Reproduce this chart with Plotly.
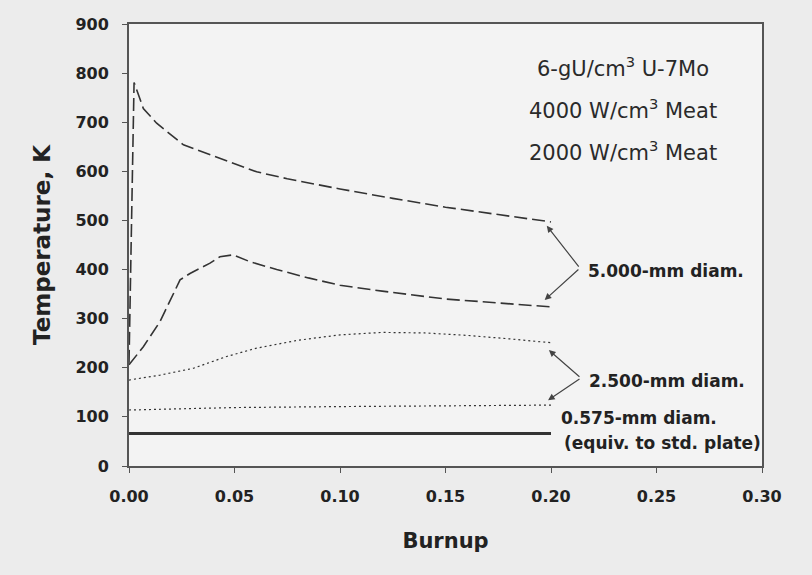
import plotly.graph_objects as go

# ---- data ----
x_5mm_4000 = [0.0, 0.0024, 0.0068, 0.0131, 0.0258, 0.0368, 0.0494, 0.0605, 0.075, 0.10, 0.125, 0.15, 0.175, 0.20]
y_5mm_4000 = [210, 781, 728, 698, 654, 637, 616, 599, 585, 564, 545, 527, 512, 497]

x_5mm_2000 = [0.0, 0.0068, 0.0147, 0.0242, 0.0289, 0.0384, 0.0431, 0.0494, 0.0573, 0.07, 0.085, 0.10, 0.12, 0.15, 0.175, 0.20]
y_5mm_2000 = [206, 243, 294, 379, 392, 413, 426, 430, 416, 400, 383, 368, 356, 340, 332, 324]

x_25mm_4000 = [0.0, 0.0147, 0.0305, 0.0463, 0.0605, 0.08, 0.10, 0.12, 0.14, 0.16, 0.18, 0.20]
y_25mm_4000 = [175, 185, 199, 223, 240, 256, 267, 272, 271, 266, 259, 251]

x_25mm_2000 = [0.0, 0.05, 0.10, 0.15, 0.20]
y_25mm_2000 = [114, 119, 121, 122, 124]

x_0575 = [0.0, 0.05, 0.10, 0.15, 0.20]
y_0575 = [66, 66, 66, 66, 66]

x_ticks = [0.00, 0.05, 0.10, 0.15, 0.20, 0.25, 0.30]
x_tick_labels = ["0.00", "0.05", "0.10", "0.15", "0.20", "0.25", "0.30"]
y_ticks = [0, 100, 200, 300, 400, 500, 600, 700, 800, 900]

line_col = "#333333"
fig = go.Figure()
fig.add_trace(go.Scatter(x=x_5mm_4000, y=y_5mm_4000, mode="lines",
                         line=dict(color=line_col, width=1.6, dash="13px,5px")))
fig.add_trace(go.Scatter(x=x_5mm_2000, y=y_5mm_2000, mode="lines",
                         line=dict(color=line_col, width=1.6, dash="13px,5px")))
fig.add_trace(go.Scatter(x=x_25mm_4000, y=y_25mm_4000, mode="lines",
                         line=dict(color=line_col, width=1.2, dash="2px,3px")))
fig.add_trace(go.Scatter(x=x_25mm_2000, y=y_25mm_2000, mode="lines",
                         line=dict(color=line_col, width=1.2, dash="2px,3px")))
fig.add_trace(go.Scatter(x=x_0575, y=y_0575, mode="lines",
                         line=dict(color=line_col, width=3)))

ann = []
txt_font = dict(family="DejaVu Sans", size=21, color="#2a2a2a")
ann.append(dict(x=0.234, y=812, text="6-gU/cm<sup>3</sup> U-7Mo", showarrow=False, font=txt_font, xanchor="center"))
ann.append(dict(x=0.234, y=727, text="4000 W/cm<sup>3</sup> Meat", showarrow=False, font=txt_font, xanchor="center"))
ann.append(dict(x=0.234, y=642, text="2000 W/cm<sup>3</sup> Meat", showarrow=False, font=txt_font, xanchor="center"))

lab_font = dict(family="DejaVu Sans", size=17, color="#222222")
ann.append(dict(x=0.2166, y=398, text="<b>5.000-mm diam.</b>", showarrow=False, font=lab_font, xanchor="left"))
ann.append(dict(x=0.217, y=173, text="<b>2.500-mm diam.</b>", showarrow=False, font=lab_font, xanchor="left"))
ann.append(dict(x=0.2038, y=98, text="<b>0.575-mm diam.</b>", showarrow=False, font=lab_font, xanchor="left"))
ann.append(dict(x=0.2050, y=47, text="<b>(equiv. to std. plate)</b>", showarrow=False, font=lab_font, xanchor="left"))

# arrows (tail at bend, head at curve end)
arrows = [((0.2137, 403), (0.198, 489)), ((0.2137, 403), (0.197, 338)),
          ((0.2142, 179), (0.199, 236)), ((0.2142, 179), (0.1986, 134))]
for (bx, by), (tx, ty) in arrows:
    ann.append(dict(x=tx, y=ty, ax=bx, ay=by, xref="x", yref="y", axref="x", ayref="y",
                    text="", showarrow=True, arrowhead=2, arrowsize=1.1, arrowwidth=1.2,
                    arrowcolor="#444444", standoff=0, startstandoff=0))

fig.update_layout(
    width=812, height=575,
    margin=dict(l=129, r=50, t=24, b=109),
    paper_bgcolor="#ececec", plot_bgcolor="#f3f3f3",
    showlegend=False,
    annotations=ann,
    font=dict(family="DejaVu Sans", color="#222222"),
)
fig.update_xaxes(range=[0, 0.30], tickvals=x_ticks, ticktext=x_tick_labels,
                 showgrid=False, zeroline=False, showline=True, linecolor="#555555", linewidth=1.5,
                 mirror=True, ticks="outside", ticklen=5, tickcolor="#555555",
                 tickfont=dict(family="DejaVu Sans", size=16, color="#222222", weight="bold"),
                 ticklabelstandoff=10,
                 title=dict(text="<b>Burnup</b>", font=dict(family="DejaVu Sans", size=21, color="#222222"), standoff=28))
fig.update_yaxes(range=[0, 900], tickvals=y_ticks,
                 showgrid=False, zeroline=False, showline=True, linecolor="#555555", linewidth=2,
                 mirror=True, ticks="outside", ticklen=5, tickcolor="#555555",
                 tickfont=dict(family="DejaVu Sans", size=16, color="#222222", weight="bold"),
                 ticklabelstandoff=10,
                 title=dict(text="<b>Temperature, K</b>", font=dict(family="DejaVu Sans", size=23, color="#222222"), standoff=18))

fig.write_html("out.html", config={"displayModeBar": False},
               post_script="document.body.style.margin='0';document.body.style.background='#ececec';document.documentElement.style.background='#ececec';")
